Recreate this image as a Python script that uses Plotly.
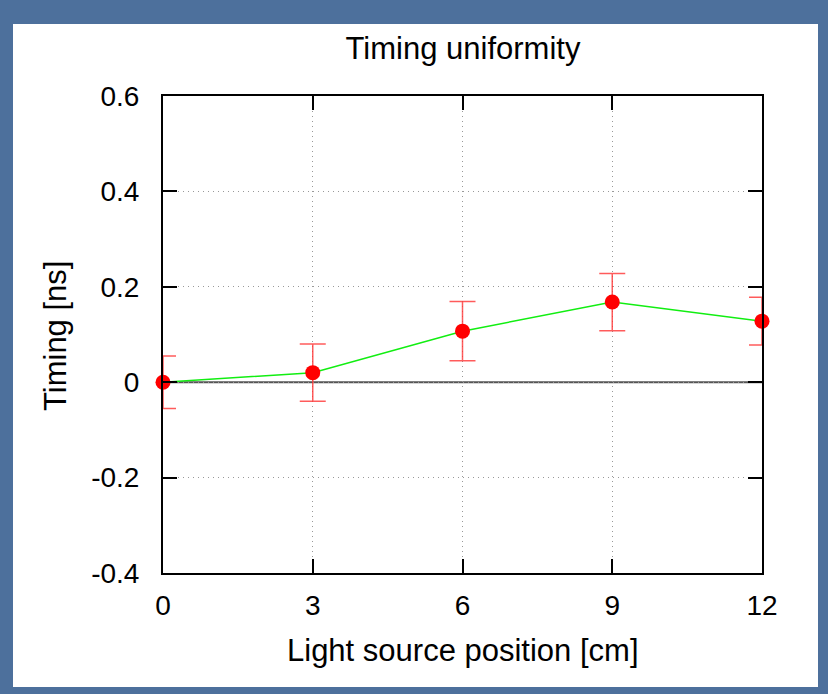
import plotly.graph_objects as go

# Data
positions = [0, 3, 6, 9, 12]
timing = [0.0, 0.02, 0.107, 0.168, 0.128]
timing_err = [0.055, 0.06, 0.062, 0.06, 0.05]

x_ticks = [0, 3, 6, 9, 12]
x_ticktext = ["0", "3", "6", "9", "12"]
y_ticks = [-0.4, -0.2, 0, 0.2, 0.4, 0.6]
y_ticktext = ["-0.4", "-0.2", "0", "0.2", "0.4", "0.6"]

FONT = "Liberation Sans, Arial, Helvetica, sans-serif"

fig = go.Figure()

# line
fig.add_trace(go.Scatter(
    x=positions, y=timing, mode="lines",
    line=dict(color="#11ee11", width=1.5),
    showlegend=False, hoverinfo="skip", cliponaxis=False,
))
# error bars + markers
fig.add_trace(go.Scatter(
    x=positions, y=timing, mode="markers",
    marker=dict(color="#ff0000", size=15),
    error_y=dict(type="data", array=timing_err, visible=True,
                 color="rgba(255,50,50,0.8)", thickness=1.5, width=13),
    showlegend=False, cliponaxis=False,
))

W, H = 828, 694
L, R, T, B = 163, 66, 96, 121
pw, ph = W - L - R, H - T - B

def px2paper_x(px):
    return (px - L) / pw

def px2paper_y(py):
    return (H - B - py) / ph

fig.add_shape(type="rect", xref="paper", yref="paper",
              x0=px2paper_x(13), x1=px2paper_x(818),
              y0=px2paper_y(687), y1=px2paper_y(24),
              fillcolor="white", line=dict(width=0), layer="below")

# zero line
fig.add_shape(type="line", xref="paper", yref="y", x0=0, x1=1, y0=0, y1=0,
              line=dict(color="#555555", width=2), layer="below")

axis_common = dict(
    showline=True, linecolor="black", linewidth=2, mirror="ticks",
    ticks="inside", ticklen=14, tickwidth=2, tickcolor="black",
    showgrid=True, gridcolor="#999999", griddash="1px,4px", gridwidth=1,
    zeroline=False,
    tickfont=dict(family=FONT, size=28, color="black"),
)

fig.update_xaxes(
    range=[0, 12], tickvals=x_ticks, ticktext=x_ticktext,
    ticklabelstandoff=6,
    **axis_common,
)
fig.update_yaxes(
    range=[-0.4, 0.6], tickvals=y_ticks, ticktext=y_ticktext,
    ticklabelstandoff=16,
    **axis_common,
)

fig.add_annotation(text="Light source position [cm]", xref="paper", yref="paper",
                   x=px2paper_x(463), y=px2paper_y(650), xanchor="center",
                   yanchor="middle", showarrow=False,
                   font=dict(family=FONT, size=31, color="black"))
fig.add_annotation(text="Timing [ns]", xref="paper", yref="paper",
                   x=px2paper_x(55), y=px2paper_y(336), xanchor="center",
                   yanchor="middle", showarrow=False, textangle=-90,
                   font=dict(family=FONT, size=31, color="black"))

fig.update_layout(
    width=W, height=H,
    margin=dict(l=L, r=R, t=T, b=B, autoexpand=False),
    paper_bgcolor="#4d709c",
    plot_bgcolor="white",
    title=dict(text="Timing uniformity", x=463 / W,
               xanchor="center", y=1 - 48 / H, yanchor="middle",
               font=dict(family=FONT, size=31, color="black")),
)

fig.write_html("out.html")
